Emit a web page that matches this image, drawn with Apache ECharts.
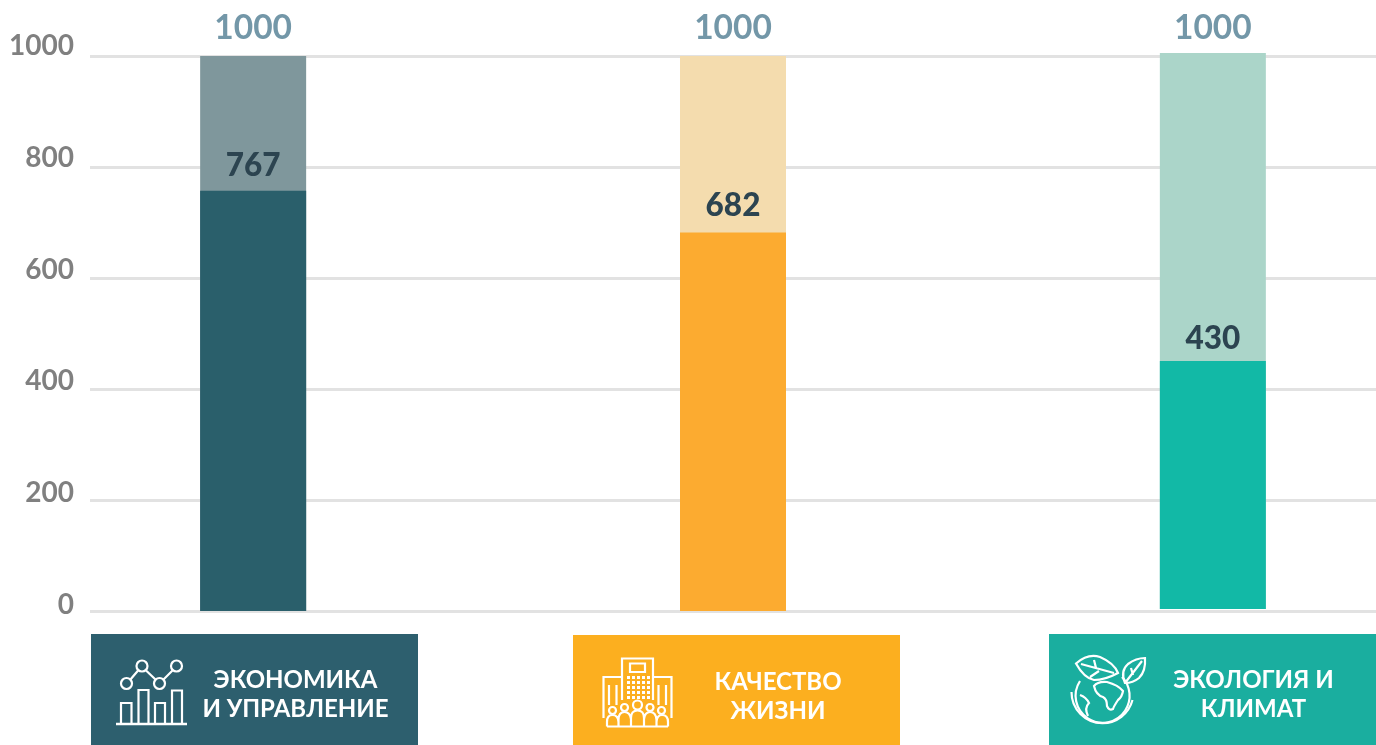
<!DOCTYPE html>
<html>
<head>
<meta charset="utf-8">
<style>html,body{margin:0;padding:0;background:#fff}#main{width:1376px;height:745px}</style>
<script src="https://cdn.jsdelivr.net/npm/echarts@6/dist/echarts.min.js"></script>
</head>
<body>
<div id="main"></div>
<script>
var categories = ['ЭКОНОМИКА\nИ УПРАВЛЕНИЕ', 'КАЧЕСТВО\nЖИЗНИ', 'ЭКОЛОГИЯ И\nКЛИМАТ'];
var totals = [1000, 1000, 1000];
// высота столбиков по картинке (подписи на ней немного расходятся)
var barValues = [757, 682, 446];
var barLabels = ['767', '682', '430'];
var yTicks = [0, 200, 400, 600, 800, 1000];

var darkColors = ['#2a5f6b', '#fcab30', '#12b9a6'];
var lightColors = ['#7f979c', '#f4dcae', '#abd5c9'];
var panelColors = ['#2d5f6e', '#fcaf1f', '#1aae9f'];

var FONT = 'Lato, "Noto Sans", sans-serif';
var chart = echarts.init(document.getElementById('main'));

// 0 - линии и столбики, 1 - третий столбик (на картинке выше на пару пикселей),
// 2 - подписи оси, они стоят над линиями и с чуть другим шагом
var grids = [
    {left: 90, right: 0, top: 56, height: 555},
    {left: 90, right: 0, top: 53, height: 556},
    {left: 90, right: 0, top: 46, height: 559}
];
var xAxes = grids.map(function (g, i) {
    return {type: 'value', gridIndex: i, min: -0.34, max: 2.34, show: false};
});
var yAxes = [{
    type: 'value',
    gridIndex: 0,
    min: 0,
    max: 1000,
    interval: 200,
    axisLine: {show: false},
    axisTick: {show: false},
    axisLabel: {show: false},
    splitLine: {show: true, lineStyle: {color: '#e2e2e2', width: 3}}
}, {
    type: 'value',
    gridIndex: 1,
    min: 0,
    max: 1000,
    show: false
}, {
    type: 'value',
    gridIndex: 2,
    min: 0,
    max: 1000,
    interval: 200,
    axisLine: {show: false},
    axisTick: {show: false},
    splitLine: {show: false},
    axisLabel: {
        color: '#808080',
        fontFamily: FONT,
        fontSize: 28,
        fontWeight: 700,
        margin: 16,
        customValues: yTicks,
        formatter: function (v) { return String(v); }
    }
}];

var totalDistance = [11, 11, 8];
var valueDistance = [9, 11, 6];

var series = [];
categories.forEach(function (name, i) {
    var axisIdx = i === 2 ? 1 : 0;
    series.push({
        name: name + ' макс',
        type: 'bar',
        xAxisIndex: axisIdx,
        yAxisIndex: axisIdx,
        barWidth: 106,
        barGap: '-100%',
        z: 3,
        data: [[i, totals[i]]],
        itemStyle: {color: lightColors[i]},
        label: {
            show: true,
            position: 'top',
            distance: totalDistance[i],
            color: '#7397a8',
            fontFamily: FONT,
            fontSize: 33.5,
            fontWeight: 700,
            formatter: function () { return String(totals[i]); }
        }
    });
    series.push({
        name: name,
        type: 'bar',
        xAxisIndex: axisIdx,
        yAxisIndex: axisIdx,
        barWidth: 106,
        barGap: '-100%',
        z: 4,
        data: [[i, barValues[i]]],
        itemStyle: {color: darkColors[i]},
        label: {
            show: true,
            position: 'top',
            distance: valueDistance[i],
            color: '#2c4450',
            fontFamily: FONT,
            fontSize: 31.5,
            fontWeight: 900,
            formatter: function () { return barLabels[i]; }
        }
    });
});

// значки на плашках
var shapeCount = 0;
function stroke(d, w) {
    var name = 'iconPath' + (shapeCount++);
    echarts.graphic.registerShape(name, echarts.graphic.extendPath(d));
    return {type: name, z: 12, style: {fill: null, stroke: '#fff', lineWidth: w || 2.2}};
}
function circle(x, y, r) {
    return {type: 'circle', z: 12, shape: {cx: x, cy: y, r: r}, style: {fill: null, stroke: '#fff', lineWidth: 2.2}};
}

var icon1 = [
    circle(126.5, 683.5, 5.5), circle(142, 666, 5.5), circle(159.5, 683.5, 5.5), circle(176.5, 666, 5.5),
    stroke('M130 680L138.5 670M145.5 670L156 680M163 680L173 670'),
    stroke('M116 724H187', 2.5),
    stroke('M121 724V703H131.5V724M138.5 724V690H148.5V724M155 724V703H165V724M172 724V690.5H182V724')
];

var icon2 = [
    stroke('M622 700V658.5H653V700'),
    stroke('M630 663.5H645V672H630Z'),
    stroke('M622 677H603.5V718M653 677H671.5V718'),
    stroke('M609 685V705M616.5 685V705M658.5 685V705M666 685V705'),
    circle(612.5, 710.5, 3.5), circle(624.5, 707.5, 3.5), circle(637.5, 705, 4.5), circle(650, 707.5, 3.5), circle(661.5, 710.5, 3.5),
    stroke('M607 726.5V722Q607 715 612.5 715Q618 715 618.5 722M618.5 726.5V720Q618.5 712 624.5 712Q630 712 631 719M631 726.5V718Q631 710.5 637.5 710.5Q644 710.5 644 718V726.5M644 719Q645 712 650 712Q656 712 656.5 720V726.5M656.5 722Q657 715 662 715Q668 715 668 722V726.5M607 726.5H668')
];
// сетка окон на центральном здании
[627, 632, 637, 642, 647].forEach(function (x) {
    [676, 681, 686, 691, 696].forEach(function (y) {
        icon2.push({type: 'rect', z: 12, shape: {x: x, y: y, width: 3, height: 3}, style: {fill: '#fff'}});
    });
});

var icon3 = [
    stroke('M1071.5 692A31 31 0 0 0 1132.5 700'),
    stroke('M1080 681A27 27 0 1 0 1122 677'),
    stroke('M1076 663.5Q1088 653 1100 657Q1114 663 1118 673Q1105 680 1094 680Q1084 678 1076 663.5ZM1081 664L1114 673M1094 660L1096 668M1090 677L1099 671'),
    stroke('M1125 683Q1120 671 1128 664Q1136 658 1145 658Q1146 671 1139 678Q1133 683 1125 683ZM1125 683L1142 661M1131 668L1133 675'),
    stroke('M1094 686Q1098 681 1107 682Q1118 685 1123 691Q1122 697 1118 700Q1114 706 1113 709Q1109 711 1107 706Q1107 699 1103 697Q1096 695 1094 686Z'),
    stroke('M1080 695Q1086 697 1089 703Q1084 708 1088 716')
];

var panels = [
    {x: 91, y: 634, w: 327, h: 111, tx: 295.5, ty: 695, icon: icon1},
    {x: 573, y: 635, w: 327, h: 110, tx: 778, ty: 696.5, icon: icon2},
    {x: 1049, y: 634, w: 327, h: 111, tx: 1253.5, ty: 695, icon: icon3}
];
var graphics = [];
panels.forEach(function (p, i) {
    graphics.push({
        type: 'rect', z: 10,
        shape: {x: p.x, y: p.y, width: p.w, height: p.h},
        style: {fill: panelColors[i]}
    });
    graphics.push({
        type: 'text', z: 12, x: p.tx, y: p.ty,
        style: {
            text: categories[i],
            fill: '#fff',
            font: '700 24px ' + FONT,
            lineHeight: 29,
            align: 'center',
            verticalAlign: 'middle'
        }
    });
    graphics = graphics.concat(p.icon);
});

var option = {
    animation: false,
    grid: grids,
    xAxis: xAxes,
    yAxis: yAxes,
    series: series,
    graphic: {elements: graphics}
};
chart.setOption(option);
</script>
</body>
</html>
